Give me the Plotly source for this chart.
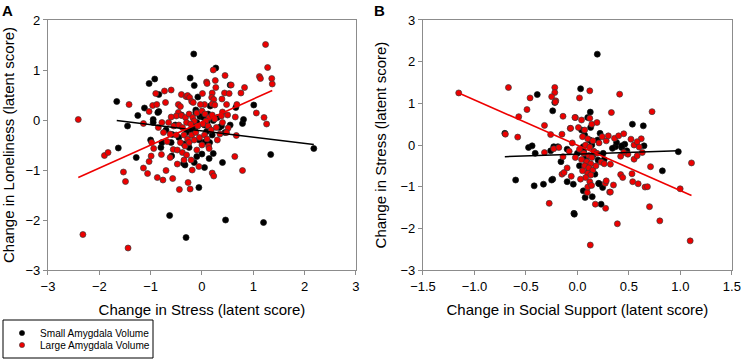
import plotly.graph_objects as go

# ---------------- Panel A: Change in Stress vs Change in Loneliness ----------------
a_small_x = [-0.16, 0.27, -0.92, -1.03, -0.23, -0.15, -1.66, -1.25, -1.12, 0.55, 1.01, -1.45, -1.63, -1.28,
             -0.59, 0.40, 1.34, 2.18, 0.79, 0.81, -0.36, -0.33, 0.00, 0.22, -0.06, -0.63, 0.46, 1.20, -0.31,
             -0.84, -0.29, -0.08, -0.84, -0.95, -0.95, 0.66, 0.34, 0.09, 0.10, -0.04, -0.02, 0.03, -0.10,
             -0.18, -0.22, 0.05, 0.12, -0.30, -0.45, -0.52, -0.70, 0.20, 0.30, -0.12, -0.60, -1.00, 0.45,
             -0.40, -0.05, 0.15, -0.25, 0.55, -0.80, -0.15, 0.05, -0.86, -0.12, 0.16, 0.22, 0.38, 0.13,
             -0.14, -0.58, -0.78, -0.35, 0.06, -0.10, 0.14]
a_small_y = [1.32, 1.04, 0.82, 0.73, 0.84, 0.69, 0.37, 0.09, 0.24, 0.70, 0.30, -0.12, -0.56, -0.75,
             -0.72, -0.85, -0.69, -0.57, -0.07, 0.01, -0.87, -0.90, -0.68, -0.67, -1.35, -1.91, -2.00, -2.05, -2.35,
             0.51, 0.47, 0.46, 0.17, 0.01, -0.05, 0.25, -0.15, -0.23, -0.05, 0.07, 0.10, 0.05, -0.05,
             -0.12, -0.20, -0.10, 0.12, -0.25, -0.35, -0.10, -0.20, -0.30, 0.05, 0.20, -0.45, -0.40, -0.25,
             0.10, -0.40, -0.45, -0.55, -0.10, -0.55, -0.85, -0.95, 0.15, 0.15, 0.28, -0.01, -0.12, -0.15,
             -0.20, -0.29, -0.45, -0.48, -0.44, -0.73, -0.77]

a_large_x = [-2.41, 1.24, 1.28, 1.12, 1.14, 1.36, 1.37, 0.83, 0.76, 0.45, 0.57, 0.26, 0.27, 0.22, 0.09, 0.10,
             0.20, 0.19, 0.23, 0.39, 0.44, 0.53, 0.05, 0.20, 0.25, 0.48, 0.68, 1.06, 1.21, 1.26, 0.65, 0.40,
             0.38, 0.67, 0.51, 0.48, 0.35, -0.73, -0.60, -0.90, -1.42, -0.96, -0.88, -0.71, -0.40, -0.31,
             -0.28, -0.24, -0.20, -0.17, -0.03, 0.01, -0.46, -0.42, -1.03, -1.14, -1.90, -1.83, -1.53, -1.49,
             -1.14, -1.06, -1.03, -0.99, -0.94, -0.79, -0.87, -0.70, -0.57, -0.48, -0.44, -0.27, -0.23, -0.19,
             -0.06, -0.76, -2.32, -1.44, 0.64, 0.79, 0.13, 0.14, 0.20, 0.23, -0.21, -0.98, -0.68, -0.56,
             -0.46, -0.50, -0.40, -0.32, -0.60, -0.65, -0.55, -0.45, -0.38, -0.30, -0.25, -0.18, -0.10, 0.00,
             0.06, 0.14, 0.20, 0.25, 0.08, 0.02, -0.08, -0.15, -0.22, 0.12, 0.18, 0.28, -0.35, -0.28, -0.20,
             -0.12, -0.50, -0.62, -0.75, -0.85, -0.78, -0.42, -0.33, -0.25, -0.15, -0.05, 0.05, 0.10, -0.48,
             -0.38, -0.30, -0.10, 0.00, -0.62, -0.35, 0.30, 0.40, 0.50]
a_large_y = [0.01, 1.51, 1.05, 0.87, 0.83, 0.83, 0.72, 0.65, 0.54, 0.89, 0.70, 0.79, 0.65, 1.00, 0.76, 0.73,
             0.54, 0.45, 0.41, 0.42, 0.54, 0.53, 0.31, 0.32, 0.30, 0.31, 0.31, 0.14, 0.05, -0.08, 0.06, 0.16,
             0.08, -0.31, -0.16, -0.25, -0.28, 0.58, 0.60, 0.53, 0.31, 0.29, 0.31, 0.35, 0.51, 0.47,
             0.49, 0.45, 0.37, 0.35, 0.31, 0.53, 0.31, 0.27, 0.17, -0.07, -0.71, -0.65, -1.04, -1.23,
             -0.96, -1.07, -0.83, -0.72, -0.57, -0.69, -1.15, -1.01, -1.17, -0.88, -1.39, -1.25, -1.38, -1.00,
             -0.93, -1.20, -2.29, -2.56, -0.73, -1.01, -0.52, -0.57, -1.06, -1.12, -0.80, -0.45, -0.43, -0.59,
             0.15, 0.08, 0.09, 0.05, 0.06, -0.05, -0.12, -0.10, -0.15, -0.05, 0.12, 0.05, 0.14, 0.18,
             0.12, 0.05, 0.10, 0.02, -0.02, -0.08, -0.12, -0.02, -0.08, -0.12, -0.20, -0.15, -0.30, -0.38, -0.30,
             -0.25, -0.30, -0.28, -0.25, -0.15, -0.05, -0.45, -0.52, -0.45, -0.40, -0.35, -0.30, -0.38, -0.60,
             -0.65, -0.70, -0.60, -0.50, -0.75, -0.80, -0.40, -0.05, 0.10]

# regression fits: (slope, intercept)
a_small_fit = (-0.125, -0.218)
a_large_fit = (0.46, -0.04)

# ---------------- Panel B: Change in Social Support vs Change in Stress ----------------
b_small_x = [0.193, 0.031, -0.39, -0.22, -0.24, 0.125, 0.10, 0.534, 0.64, -0.705, -0.475, -0.44, -0.41, 0.647,
             0.98, 0.825, -0.16, -0.60, -0.24, -0.42, -0.33, -0.25, -0.10, -0.04, 0.057, 0.075, -0.034, -0.03,
             0.144, 0.206, 0.245, 0.23, -0.26, -0.23, -0.19, -0.10, 0.46, 0.48, 0.43, 0.37, 0.38, 0.34, 0.25,
             0.20, 0.26, 0.21, 0.128, 0.04, 0.07, 0.22, 0.196, 0.43, 0.12, 0.056, 0.08, 0.15, 0.02, 0.11,
             0.17, 0.06, 0.14, 0.00, 0.09]
b_small_y = [2.18, 1.35, 1.21, 1.02, 0.82, 0.79, 0.66, 0.50, 0.46, 0.28, -0.06, -0.02, -0.20, -0.02,
             -0.16, -0.62, -0.40, -0.84, -0.82, -0.98, -0.94, -0.84, -0.88, -0.94, -1.10, -1.26, -1.64, -1.66,
             -1.24, -0.92, -1.02, -1.42, -0.14, -0.04, -0.04, -0.10, 0.02, -0.14, -0.06, -0.04, 0.06, -0.08, -0.20,
             -0.36, -0.35, -0.93, 0.42, 0.36, 0.24, 0.28, 0.12, -0.02, 0.12, -0.04, -0.30, -0.25, -0.50, -0.60,
             -0.70, -0.15, 0.00, -0.20, -0.40]

b_large_x = [-1.153, -0.67, -0.22, -0.22, -0.25, -0.46, -0.21, -0.215, 0.02, 0.12, 0.41, 0.725, 0.33, -0.49,
             -0.57, -0.14, -0.02, 0.04, 0.12, -0.07, 0.01, 0.07, 0.14, 0.19, -0.32, -0.26, -0.15, -0.70, -0.58,
             -0.32, 1.108, 0.71, -0.274, 0.125, 0.388, 0.80, 1.095, 0.998, 0.70, 0.274, 0.174, 0.313, 0.096,
             0.10, 0.12, 0.138, 0.27, 0.35, 0.537, 0.59, 0.657, 0.68, -0.23, -0.18, -0.15, -0.13, -0.14, 0.53,
             0.42, 0.44, 0.32, 0.28, 0.32, 0.55, 0.58, 0.63, 0.49, 0.45, 0.42, 0.23, 0.26,
             0.05, 0.10, 0.15, 0.08, 0.12, 0.02, 0.16, 0.06, 0.11, 0.14, 0.04, 0.09, 0.13, 0.07, 0.11, 0.15,
             0.05, 0.10, 0.13, 0.08, 0.03, 0.18, 0.19, 0.21, 0.24, 0.28, 0.30, 0.36, 0.40, 0.45, 0.52, 0.55,
             0.60, 0.62, 0.58, -0.05, -0.08, -0.02, -0.10, -0.06, -0.066, -0.024]
b_large_y = [1.25, 1.38, 1.38, 1.26, 1.16, 1.13, 1.06, 1.03, 1.13, 1.30, 1.22, 0.80, 0.78, 0.85,
             0.68, 0.69, 0.66, 0.60, 0.64, 0.40, 0.42, 0.36, 0.50, 0.54, 0.47, 0.25, 0.26, 0.26, 0.19,
             -0.18, -0.43, -0.52, -1.40, -2.40, -1.89, -1.82, -2.30, -1.05, -1.48, -1.52, -1.42, -1.13, -1.14,
             -1.01, -0.88, -0.97, -0.92, -0.96, -0.88, -0.93, -1.01, -1.00, -0.09, -0.06, -0.70, -0.66, -0.28, -0.69,
             -0.71, -0.78, -1.13, -0.86, -0.46, -0.34, -0.26, -0.18, -0.22, -0.18, -0.27, -0.41, -0.45,
             0.20, 0.15, 0.10, 0.00, -0.05, -0.10, -0.15, -0.20, -0.25, -0.30, -0.35, -0.40, -0.45, -0.50, -0.55, -0.60,
             -0.62, -0.68, -0.72, -0.78, -0.82, -0.50, -0.20, 0.05, 0.20, 0.10, 0.22, 0.16, 0.22, 0.27, 0.14, 0.00,
             -0.05, 0.15, 0.08, 0.05, -0.15, -0.30, -0.55, -0.75, 0.40, 0.66]

b_small_fit = (0.085, -0.22)
b_large_fit = (-1.088, -0.005)

legend_names = ["Small Amygdala Volume", "Large Amygdala Volume"]
series_colors = ["#000000", "#EE0000"]
outline_colors = ["#111111", "#3a3a3a"]

FONT = "Arial, Liberation Sans, sans-serif"


def fit_line(xs, fit):
    x0, x1 = min(xs), max(xs)
    return [x0, x1], [fit[0] * x0 + fit[1], fit[0] * x1 + fit[1]]


fig = go.Figure()

panels = [
    ("x", "y", (a_small_x, a_small_y, a_small_fit), (a_large_x, a_large_y, a_large_fit)),
    ("x2", "y2", (b_small_x, b_small_y, b_small_fit), (b_large_x, b_large_y, b_large_fit)),
]

for pi, (xa, ya, small, large) in enumerate(panels):
    for gi, (xs, ys, fit) in enumerate([small, large]):
        fig.add_trace(go.Scatter(
            x=xs, y=ys, mode="markers", xaxis=xa, yaxis=ya,
            name=legend_names[gi], showlegend=False,
            marker=dict(color=series_colors[gi], size=6,
                        line=dict(color=outline_colors[gi], width=0.7)),
        ))
    for gi, (xs, ys, fit) in enumerate([small, large]):
        lx, ly = fit_line(xs, fit)
        fig.add_trace(go.Scatter(
            x=lx, y=ly, mode="lines", xaxis=xa, yaxis=ya, showlegend=False,
            line=dict(color=series_colors[gi], width=1.6), hoverinfo="skip",
        ))

axis_common = dict(showline=True, mirror=True, linecolor="#8c8c8c", linewidth=1.2,
                   ticks="outside", ticklen=4, tickcolor="#8c8c8c", showgrid=False,
                   zeroline=False, automargin=False,
                   tickfont=dict(family=FONT, size=13, color="#000"))

# ---- compact boxed legend (bottom-left), drawn in paper coordinates ----
W, H = 743.0, 361.0
leg_box = (3, 320, 153, 358)          # px: left, top, right, bottom
leg_rows_y = [333, 345]               # px centre of each row
leg_marker_x = 22
leg_text_x = 38
shapes = [dict(type="rect", xref="paper", yref="paper",
               x0=leg_box[0] / W, x1=leg_box[2] / W, y0=1 - leg_box[3] / H, y1=1 - leg_box[1] / H,
               line=dict(color="#000", width=1), fillcolor="white", layer="above")]
annotations = []
r = 2.6
for i, name in enumerate(legend_names):
    cy = leg_rows_y[i]
    shapes.append(dict(type="circle", xref="paper", yref="paper",
                       x0=(leg_marker_x - r) / W, x1=(leg_marker_x + r) / W,
                       y0=1 - (cy + r) / H, y1=1 - (cy - r) / H,
                       fillcolor=series_colors[i], line=dict(color=outline_colors[i], width=0.6),
                       layer="above"))
    annotations.append(dict(text=name, x=leg_text_x / W, y=1 - cy / H, xref="paper", yref="paper",
                            xanchor="left", yanchor="middle", showarrow=False,
                            font=dict(family=FONT, size=10.1, color="#000")))

annotations += [
    dict(text="<b>A</b>", x=0.0, y=1.0, xref="paper", yref="paper",
         xanchor="left", yanchor="top", showarrow=False, font=dict(size=15, family=FONT)),
    dict(text="<b>B</b>", x=0.5, y=1.0, xref="paper", yref="paper",
         xanchor="left", yanchor="top", showarrow=False, font=dict(size=15, family=FONT)),
]

fig.update_layout(
    width=743, height=361,
    margin=dict(l=0, r=0, t=0, b=0, autoexpand=False),
    paper_bgcolor="white", plot_bgcolor="white",
    font=dict(family=FONT, color="#000"),
    showlegend=False,
    xaxis=dict(domain=[0.0646, 0.479], range=[-3, 3], dtick=1, anchor="y",
               title=dict(text="Change in Stress (latent score)", font=dict(size=15), standoff=11),
               **axis_common),
    yaxis=dict(domain=[0.252, 0.9446], range=[-3, 2], dtick=1, anchor="x",
               title=dict(text="Change in Loneliness (latent score)", font=dict(size=15), standoff=7),
               **axis_common),
    xaxis2=dict(domain=[0.5693, 0.985], range=[-1.5, 1.5], dtick=0.5, tickformat=".1f", anchor="y2",
                title=dict(text="Change in Social Support (latent score)", font=dict(size=15), standoff=11),
                **axis_common),
    yaxis2=dict(domain=[0.252, 0.9446], range=[-3, 3], dtick=1, anchor="x2",
                title=dict(text="Change in Stress (latent score)", font=dict(size=15), standoff=10),
                **axis_common),
    shapes=shapes,
    annotations=annotations,
)

# page body has a default 8px margin; remove it so the 743x361 figure fills the window
fig.write_html("out.html", config={"displayModeBar": False},
               post_script="document.body.style.margin='0';document.body.style.overflow='hidden';")
